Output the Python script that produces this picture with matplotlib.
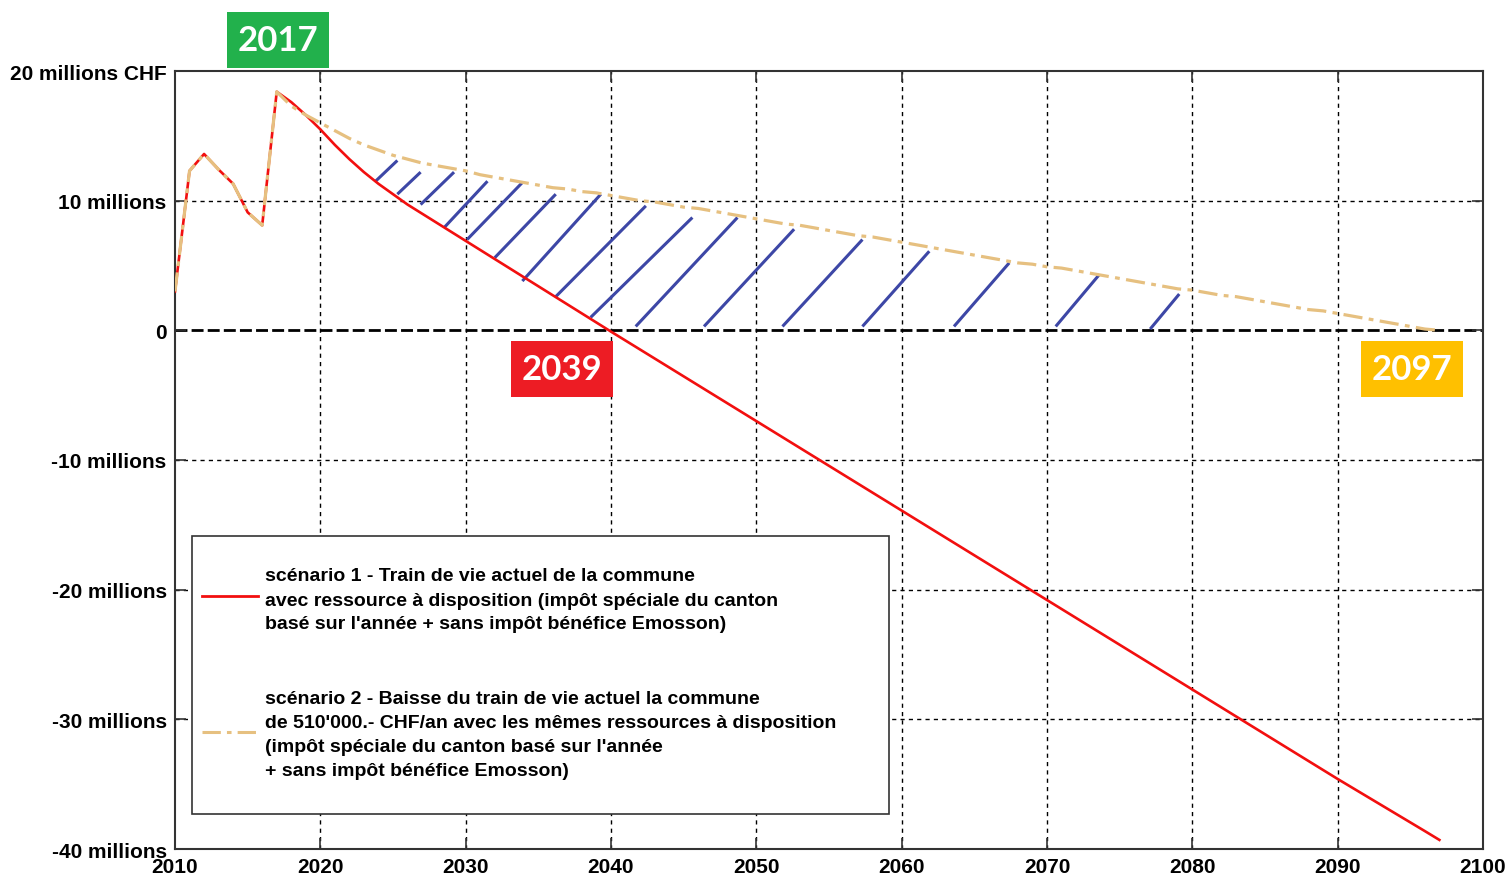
import numpy as np
import matplotlib
matplotlib.use("Agg")
import matplotlib.pyplot as plt
from matplotlib.lines import Line2D
from matplotlib.patches import Rectangle

# --- donnees (millions CHF) ---
annees = list(range(2010, 2098))

scenario1 = [3.0, 12.3, 13.6, 12.4, 11.3, 9.1, 8.1, 18.4, 17.6, 16.6,
             15.5, 14.3, 13.2, 12.2, 11.3, 10.5, 9.7, 9.0, 8.3, 7.6,
             6.9, 6.2, 5.5, 4.8, 4.1, 3.4, 2.7, 2.0, 1.3, 0.6,
             -0.1, -0.79, -1.48, -2.17, -2.86, -3.55, -4.24, -4.93, -5.62, -6.31,
             -7.0, -7.69, -8.38, -9.07, -9.76, -10.45, -11.14, -11.83, -12.52, -13.21,
             -13.9, -14.59, -15.28, -15.97, -16.66, -17.35, -18.04, -18.73, -19.42, -20.11,
             -20.8, -21.49, -22.18, -22.87, -23.56, -24.25, -24.94, -25.63, -26.32, -27.01,
             -27.7, -28.39, -29.08, -29.77, -30.46, -31.15, -31.84, -32.53, -33.22, -33.91,
             -34.6, -35.27, -35.94, -36.61, -37.28, -37.95, -38.62, -39.3]

scenario2 = [3.0, 12.3, 13.6, 12.4, 11.3, 9.1, 8.1, 18.4, 17.3, 16.6,
             16.0, 15.4, 14.8, 14.3, 13.9, 13.5, 13.2, 12.9, 12.7, 12.5,
             12.3, 12.0, 11.8, 11.6, 11.4, 11.2, 11.0, 10.9, 10.7, 10.6,
             10.4, 10.2, 10.0, 9.9, 9.7, 9.5, 9.4, 9.2, 9.0, 8.8,
             8.6, 8.4, 8.2, 8.1, 7.9, 7.7, 7.5, 7.3, 7.2, 7.0,
             6.8, 6.6, 6.4, 6.2, 6.0, 5.8, 5.6, 5.4, 5.2, 5.1,
             4.9, 4.8, 4.6, 4.4, 4.2, 4.0, 3.8, 3.6, 3.4, 3.2,
             3.1, 2.9, 2.7, 2.6, 2.4, 2.2, 2.0, 1.8, 1.6, 1.5,
             1.3, 1.1, 0.9, 0.7, 0.5, 0.3, 0.1, 0.0]

# hachures : debut (annee, valeur) -> fin (annee, valeur)
hach_x0 = [2023.8, 2025.3, 2026.9, 2028.5, 2030.1, 2032.0, 2033.9, 2036.2,
           2038.6, 2041.7, 2046.4, 2051.8, 2057.3, 2063.6, 2070.6, 2077.1]
hach_y0 = [11.5, 10.5, 9.7, 7.9, 7.0, 5.6, 3.8, 2.6,
           1.0, 0.3, 0.3, 0.3, 0.3, 0.3, 0.3, 0.1]
hach_x1 = [2025.3, 2026.9, 2029.2, 2031.5, 2033.9, 2036.2, 2039.3, 2042.4,
           2045.6, 2048.7, 2052.6, 2057.3, 2061.9, 2067.4, 2073.6, 2079.1]
hach_y1 = [13.1, 12.2, 12.2, 11.5, 11.4, 10.5, 10.5, 9.6,
           8.7, 8.7, 7.8, 7.0, 6.1, 5.2, 4.3, 2.8]

ticks_y = [20, 10, 0, -10, -20, -30, -40]
labels_y = ['20 millions CHF', '10 millions', '0', '-10 millions',
            '-20 millions', '-30 millions', '-40 millions']
ticks_x = list(range(2010, 2101, 10))

etiquettes = [('2017', '#22B14C', 227, 13), ('2039', '#ED1C24', 511, 342),
              ('2097', '#FFC000', 1361, 342)]

lignes1 = ["scénario 1 - Train de vie actuel de la commune",
           "avec ressource à disposition (impôt spéciale du canton",
           "basé sur l'année + sans impôt bénéfice Emosson)"]
lignes2 = ["scénario 2 - Baisse du train de vie actuel la commune",
           "de 510'000.- CHF/an avec les mêmes ressources à disposition",
           "(impôt spéciale du canton basé sur l'année",
           "+ sans impôt bénéfice Emosson)"]

rouge = '#F20F0F'
beige = '#E6C080'
bleu = '#3D47A6'
tirets_beige = (0, (6, 2, 1.5, 2))

W, H = 1510, 878
def fx(px):
    return px / W
def fy(py):
    return 1 - py / H

plt.rcParams['font.family'] = ['Liberation Sans', 'DejaVu Sans']

fig = plt.figure(figsize=(W / 100, H / 100), dpi=100)
ax = fig.add_axes([fx(175), fy(850), fx(1483) - fx(175), fy(72) - fy(850)])

ax.set_xlim(2010, 2100)
ax.set_ylim(-40, 20)

# grille
for x in ticks_x[1:-1]:
    ax.axvline(x, color='black', lw=1, ls=(0, (3, 3)), zorder=1)
for y in ticks_y[1:-1]:
    if y == 0:
        ax.axhline(0, color='black', lw=2, ls=(0, (4.3, 1.5)), zorder=1)
    else:
        ax.axhline(y, color='black', lw=1, ls=(0, (3, 3)), zorder=1)

# hachures bleues
for i in range(len(hach_x0)):
    ax.plot([hach_x0[i], hach_x1[i]], [hach_y0[i], hach_y1[i]],
            color=bleu, lw=2.2, solid_capstyle='butt', zorder=2)

ax.plot(annees, scenario1, color=rouge, lw=1.9, zorder=3)
ax.plot(annees, scenario2, color=beige, lw=2.3, ls=tirets_beige, zorder=4)

ax.set_xticks(ticks_x)
ax.set_xticklabels([str(t) for t in ticks_x], fontsize=15, fontweight='bold')
ax.set_yticks(ticks_y)
ax.set_yticklabels(labels_y, fontsize=15, fontweight='bold')
ax.tick_params(direction='in', length=8, width=1.2, color='#333333',
               top=True, right=True, pad=6)
for s in ax.spines.values():
    s.set_color('#333333')
    s.set_linewidth(1.5)

# legende
fig.add_artist(Rectangle((fx(192), fy(815)), fx(889) - fx(192), fy(537) - fy(815),
                         transform=fig.transFigure, facecolor='white',
                         edgecolor='#333333', lw=1.2))
fig.add_artist(Line2D([fx(202), fx(258)], [fy(597), fy(597)], color=rouge, lw=2))
fig.add_artist(Line2D([fx(202), fx(258)], [fy(733), fy(733)], color=beige, lw=2.2,
                      ls=tirets_beige))
for i, l in enumerate(lignes1):
    fig.text(fx(265), fy(577 + 24 * i), l, ha='left', va='center', fontsize=14,
             fontweight='bold')
for i, l in enumerate(lignes2):
    fig.text(fx(265), fy(700 + 24 * i), l, ha='left', va='center', fontsize=14,
             fontweight='bold')

# etiquettes d'annees
for txt, coul, px, py in etiquettes:
    fig.add_artist(Rectangle((fx(px), fy(py + 56)), fx(102), 56 / H,
                             transform=fig.transFigure, facecolor=coul,
                             edgecolor='none'))
    fig.text(fx(px + 51), fy(py + 28), txt, ha='center', va='center',
             fontsize=25, fontweight='bold', color='white',
             family=['Lato', 'Open Sans', 'DejaVu Sans'])

fig.savefig('out.png', dpi=100)
